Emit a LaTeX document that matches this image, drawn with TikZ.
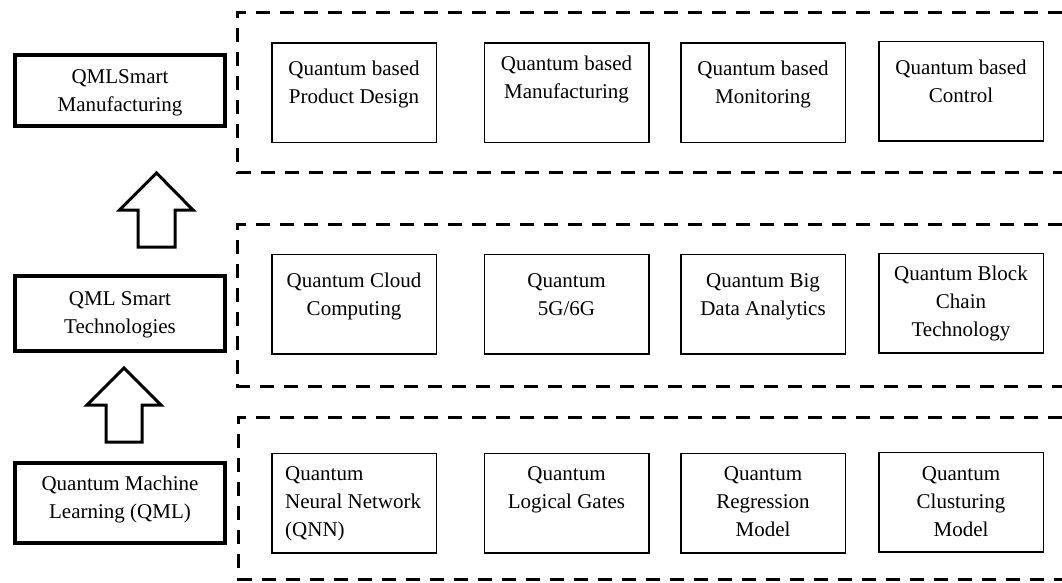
\documentclass[tikz,border=0pt]{standalone}
\usepackage{fontspec}
\setmainfont{Liberation Serif}
\begin{document}
\begin{tikzpicture}[x=1pt,y=-1pt,
  lbox/.style={draw, line width=4pt, minimum width=210pt, inner sep=0pt},
  ibox/.style={draw, line width=1.5pt, minimum width=164.5pt, minimum height=99.5pt, inner sep=0pt},
  txt/.style={font=\fontsize{21}{28}\selectfont, align=center, anchor=north, inner sep=0pt},
  ltxt/.style={txt, align=left, anchor=north west},
  cont/.style={line width=3pt, dash pattern=on 14pt off 10pt},
  barrow/.style={draw, line width=3pt, line join=miter}]
\useasboundingbox (0,0) rectangle (1062,582);

% dashed containers (open to the right)
\draw[cont] (1062,12.5) -- (237.5,12.5) -- (237.5,172.5) -- (1062,172.5);
\draw[cont] (1062,224.5) -- (237.5,224.5) -- (237.5,386) -- (1062,386);
\draw[cont] (1062,417.5) -- (238.5,417.5) -- (238.5,579) -- (1062,579);

% left column
\node[lbox, minimum height=71pt] (L1) at (120,90.5) {};
\node[lbox, minimum height=75pt] (L2) at (120,313.5) {};
\node[lbox, minimum height=80pt] (L3) at (120,503) {};
\node[txt] (L1t) at (120,69) {QMLSmart\\Manufacturing};
\node[txt] (L2t) at (120,291) {QML Smart\\Technologies};
\node[txt] (L3t) at (120,476) {Quantum Machine\\Learning (QML)};

% block arrows
\coordinate (A1) at (156.5,247);
\draw[barrow] (A1) ++(-18.5,0) -- ++(0,-37) -- ++(-18.5,0) -- (156.5,173) -- (193,210) -- (175,210) -- (175,247) -- cycle;
\coordinate (A2) at (124,442);
\draw[barrow] (A2) ++(-18,0) -- ++(0,-37) -- ++(-19,0) -- (124,368) -- (161,405) -- (142,405) -- (142,442) -- cycle;

% top row
\node[ibox] (T1) at (354,92.5) {};
\node[ibox] (T2) at (566.5,92.5) {};
\node[ibox] (T3) at (763,92.5) {};
\node[ibox] (T4) at (961,91) {};
\node[txt] (T1t) at (354,61) {Quantum based\\Product Design};
\node[txt] (T2t) at (566.5,56) {Quantum based\\Manufacturing};
\node[txt] (T3t) at (763,61) {Quantum based\\Monitoring};
\node[txt] (T4t) at (961,60) {Quantum based\\Control};

% middle row
\node[ibox] (M1) at (354,304) {};
\node[ibox] (M2) at (566.5,304) {};
\node[ibox] (M3) at (763,304) {};
\node[ibox] (M4) at (961,303) {};
\node[txt] (M1t) at (354,273) {Quantum Cloud\\Computing};
\node[txt] (M2t) at (566.5,273) {Quantum\\5G/6G};
\node[txt] (M3t) at (763,273) {Quantum Big\\Data Analytics};
\node[txt] (M4t) at (961,266) {Quantum Block\\Chain\\Technology};

% bottom row
\node[ibox] (B1) at (354,503) {};
\node[ibox] (B2) at (566.5,503) {};
\node[ibox] (B3) at (763,503) {};
\node[ibox] (B4) at (961,502) {};
\node[ltxt] (B1t) at (285,466) {Quantum\\Neural Network\\(QNN)};
\node[txt] (B2t) at (566.5,466) {Quantum\\Logical Gates};
\node[txt] (B3t) at (763,466) {Quantum\\Regression\\Model};
\node[txt] (B4t) at (961,466) {Quantum\\Clusturing\\Model};
\end{tikzpicture}
\end{document}
